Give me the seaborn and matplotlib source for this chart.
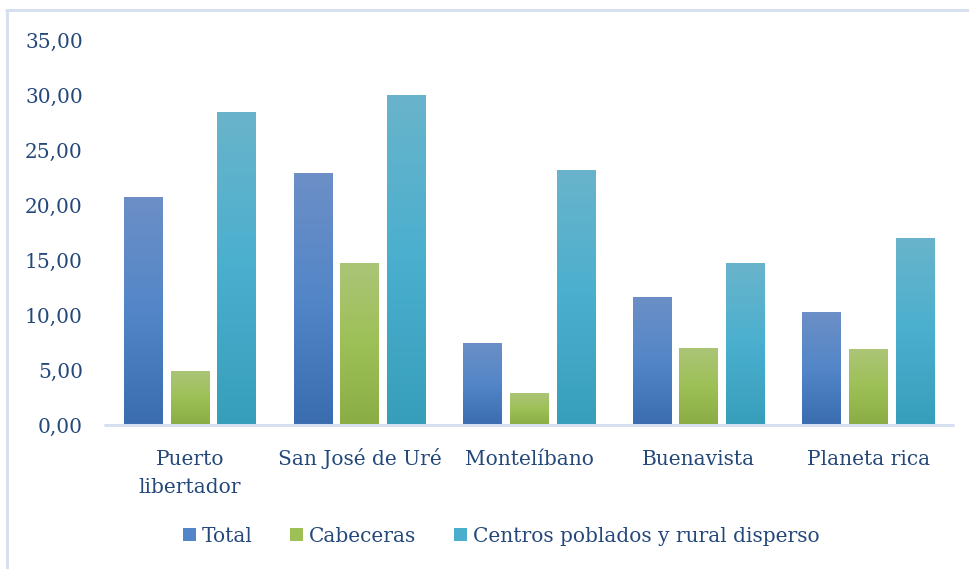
import numpy as np
import pandas as pd
import matplotlib
matplotlib.use("Agg")
import matplotlib.pyplot as plt
import seaborn as sns
from matplotlib.colors import LinearSegmentedColormap
from matplotlib.lines import Line2D
from matplotlib.patches import Patch

municipios = ["Puerto\nlibertador", "San José de Uré", "Montelíbano", "Buenavista", "Planeta rica"]
series = ["Total", "Cabeceras", "Centros poblados y rural disperso"]
total = [20.7, 22.9, 7.45, 11.6, 10.2]
cabeceras = [4.9, 14.7, 2.9, 7.0, 6.9]
centros = [28.45, 30.0, 23.1, 14.7, 17.0]
yticks = [0, 5, 10, 15, 20, 25, 30, 35]

df = pd.DataFrame({
    "municipio": municipios * 3,
    "serie": [series[0]] * 5 + [series[1]] * 5 + [series[2]] * 5,
    "valor": total + cabeceras + centros,
})

# (top, middle, bottom) colours of each series' vertical gradient
gradients = {
    series[0]: ["#6C8FC6", "#5386C8", "#3A6DAF"],
    series[1]: ["#ABC577", "#9DC056", "#8AAC44"],
    series[2]: ["#69B4CB", "#4AAFCF", "#379EBA"],
}
base_colors = {k: v[1] for k, v in gradients.items()}

text_color = "#24487A"
font = "DejaVu Serif"
fs = 14.5

sns.set_theme(style="white")
plt.rcParams["font.family"] = [font]

fig = plt.figure(figsize=(9.69, 5.69), dpi=100)
W, H = 969, 569
ax_h = 425 - 40
ax = fig.add_axes([105 / W, (H - 425) / H, (953 - 105) / W, ax_h / H])

sns.barplot(data=df, x="municipio", y="valor", hue="serie", hue_order=series,
            palette=base_colors, width=0.825, gap=0.18, ax=ax, legend=False,
            saturation=1)

# Paint a vertical gradient over every bar
n = len(municipios)
for i, patch in enumerate(ax.patches):
    s = series[i // n]
    cmap = LinearSegmentedColormap.from_list(s, gradients[s][::-1])
    x0, y0 = patch.get_x(), patch.get_y()
    w, h = patch.get_width(), patch.get_height()
    grad = np.linspace(0, 1, 256).reshape(-1, 1)
    ax.imshow(grad, cmap=cmap, origin="lower", aspect="auto",
              extent=(x0, x0 + w, y0, y0 + h), zorder=patch.get_zorder() + 0.1)

ax.set_xlim(-0.5, n - 0.5)
ax.set_ylim(0, 35)
ax.set_yticks(yticks)
ax.set_yticklabels([f"{v:.2f}".replace(".", ",") for v in yticks])
ax.set_xlabel("")
ax.set_ylabel("")
for sp in ax.spines.values():
    sp.set_visible(False)
ax.axhline(0, color="#D6E0F0", lw=2.2, zorder=5, clip_on=False)
ax.tick_params(axis="y", length=0, pad=16, labelsize=fs, labelcolor=text_color)
for lbl in ax.get_yticklabels():
    lbl.set_verticalalignment("center_baseline")

# Category names: each line sits on its own baseline under the group
ax.set_xticks(range(n))
ax.set_xticklabels([""] * n)
ax.tick_params(axis="x", length=0)
xform = ax.get_xaxis_transform()
for i, name in enumerate(municipios):
    for j, line in enumerate(name.split("\n")):
        ax.text(i, -(40 + 28 * j) / ax_h, line, transform=xform, ha="center",
                va="baseline", fontsize=fs, color=text_color, clip_on=False)

handles = [Patch(facecolor=gradients[s][1], edgecolor="none") for s in series]
fig.legend(handles, series, loc="center", bbox_to_anchor=(501 / W, 1 - 536 / H),
           ncol=3, frameon=False, fontsize=fs, labelcolor=text_color,
           handlelength=0.65, handleheight=0.65, handletextpad=0.3,
           columnspacing=1.85)

# Chart frame
fig.add_artist(Line2D([7 / W, 7 / W], [0, 1 - 10 / H], transform=fig.transFigure,
                      color="#D4DEEE", lw=2))
fig.add_artist(Line2D([6 / W, 1], [1 - 10 / H, 1 - 10 / H], transform=fig.transFigure,
                      color="#D4DEEE", lw=2))

fig.savefig("out.png", dpi=100)
